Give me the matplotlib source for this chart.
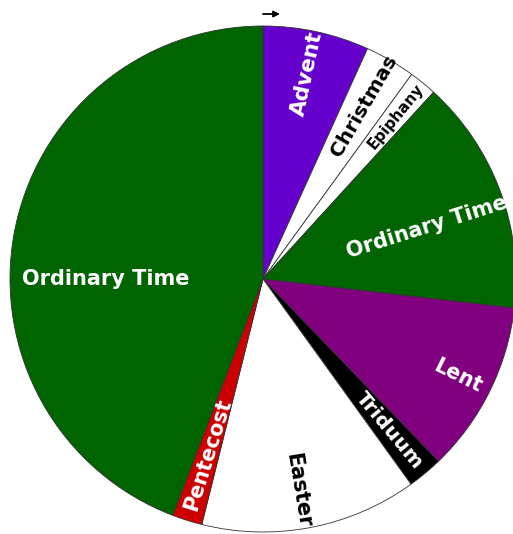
import numpy as np
import matplotlib
matplotlib.use("Agg")
import matplotlib.pyplot as plt

# liturgical seasons, clockwise from the top (degrees of the year circle)
seasons = ["Advent", "Christmas", "Epiphany", "Ordinary Time", "Lent",
           "Triduum", "Easter", "Pentecost", "Ordinary Time"]
sizes = [24.4, 11.6, 6.4, 54.2, 39.5, 8.1, 49.8, 6.9, 159.1]
colors = ["#6600cc", "#ffffff", "#ffffff", "#006400", "#800080",
          "#000000", "#ffffff", "#cc0000", "#006400"]
text_colors = ["white", "black", "black", "white", "white",
               "white", "black", "white", "white"]

# label layout: distance from centre, angle nudge (deg), font size
label_radius = [0.83, 0.79, 0.83, 0.68, 0.86, 0.78, 0.845, 0.73, 0.62]
label_nudge = [0, 0, 0, -3, 0, 0, -1.5, 0, 10.5]
font_sizes = [15.5, 14.5, 11, 15, 14.8, 14.7, 15, 14.9, 15]

W, H = 513, 534
cx, cy, R = 263, 279, 253

fig = plt.figure(figsize=(W / 100, H / 100), dpi=100)
ax = fig.add_axes([0, 0, 1, 1])

wedges, _ = ax.pie(sizes, colors=colors, startangle=90, counterclock=False,
                   wedgeprops=dict(edgecolor="#333333", linewidth=0.6))

for i, w in enumerate(wedges):
    mid = (w.theta1 + w.theta2) / 2.0 + label_nudge[i]
    x = label_radius[i] * np.cos(np.radians(mid))
    y = label_radius[i] * np.sin(np.radians(mid))
    rot = mid % 360
    if 90 < rot < 270:
        rot -= 180
    if i == len(wedges) - 1:
        rot = 0  # big ordinary time label sits flat
    ax.text(x, y, seasons[i], color=text_colors[i], fontsize=font_sizes[i],
            fontweight="bold", rotation=rot, rotation_mode="anchor",
            ha="center", va="center")

# direction arrow above the start
ax.annotate("", xy=(17 / R, (cy - 14) / R), xytext=(0, (cy - 14) / R),
            arrowprops=dict(arrowstyle="-|>", color="black", lw=1.3,
                            mutation_scale=9, shrinkA=0, shrinkB=0))

ax.set_xlim(-cx / R, (W - cx) / R)
ax.set_ylim(-(H - cy) / R, cy / R)
ax.set_aspect("auto")
ax.axis("off")

fig.savefig("out.png", dpi=100)
